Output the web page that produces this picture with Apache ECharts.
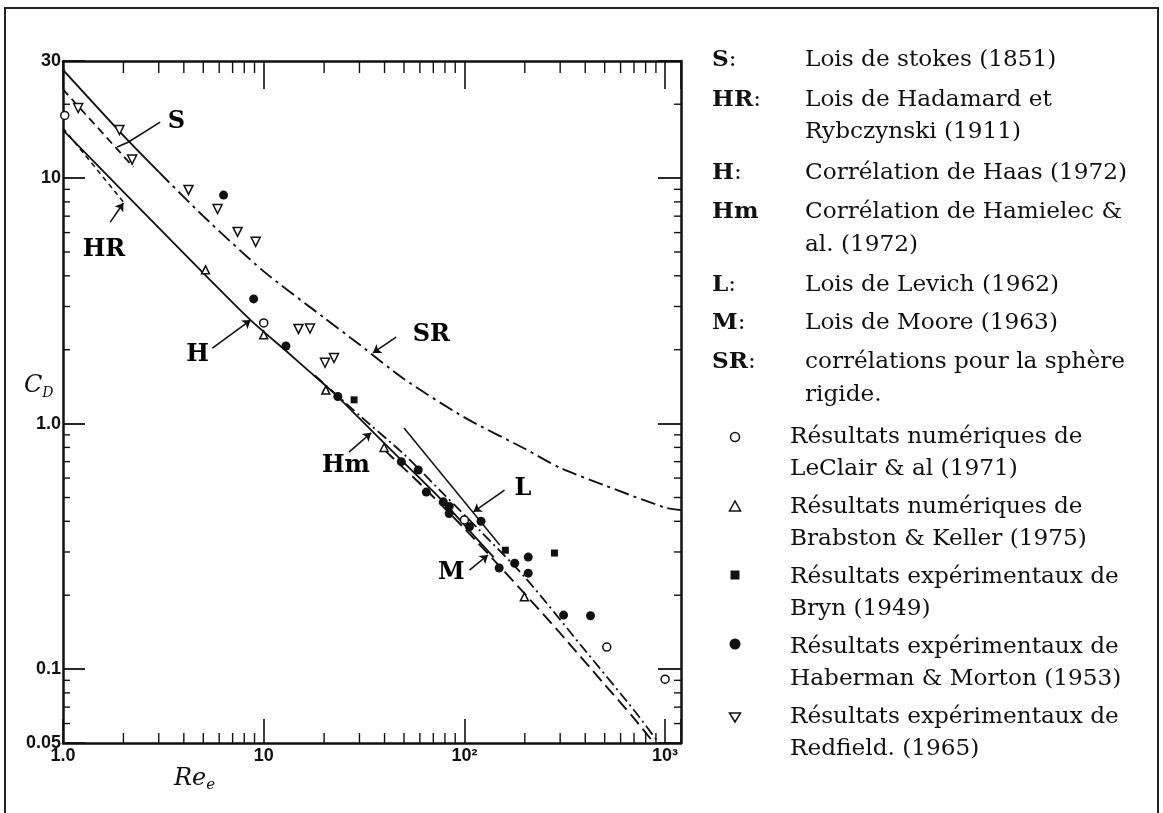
<!DOCTYPE html>
<html><head><meta charset="utf-8">
<script src="https://cdn.jsdelivr.net/npm/echarts@6.0.0/dist/echarts.min.js"></script>
<style>html,body{margin:0;padding:0;background:#fff}#c{width:1163px;height:813px}</style>
</head><body><div id="c"></div>
<script>
// ---------- axis ranges & tick labels ----------
const X_MIN = 1, X_MAX = 1200, Y_MIN = 0.05, Y_MAX = 30;
const xTickValues = [1, 10, 100, 1000];
const xTickTexts = ['1.0', '10', '10²', '10³'];
const yTickValues = [0.05, 0.1, 1, 10, 30];
const yTickTexts = ['0.05', '0.1', '1.0', '10', '30'];
const xMinorTicks = [2,3,4,5,6,7,8,9,20,30,40,50,60,70,80,90,200,300,400,500,600,700,800,900];
const yMinorTicks = [0.06,0.07,0.08,0.09,0.2,0.3,0.4,0.5,0.6,0.7,0.8,0.9,2,3,4,5,6,7,8,9,20];

// ---------- curves ----------
const srSolidRe = [1, 2, 3];
const srSolidCd = [27.6, 14.9, 10.6];
const srRe = [3, 5, 10, 20, 30, 50, 100, 200, 300, 500, 1000, 1200];
const srCd = [10.6, 7.0, 4.17, 2.7, 2.1, 1.52, 1.06, 0.79, 0.66, 0.56, 0.455, 0.445];
const sRe = [1, 2.24];
const sCd = [23, 11.1];
const hrRe = [1, 2.05];
const hrCd = [16, 7.8];
const hRe = [1, 2, 5.4, 8.6, 12.9, 17.2, 22.4, 30, 48.5, 76.7, 110, 140];
const hCd = [15.7, 8.8, 3.85, 2.64, 1.98, 1.61, 1.33, 1.05, 0.71, 0.49, 0.354, 0.285];
const hmRe = [18, 30, 50, 80, 120, 200, 400, 700, 930];
const hmCd = [1.57, 1.08, 0.75, 0.51, 0.365, 0.237, 0.119, 0.068, 0.05];
const lRe = [50, 150];
const lCd = [0.96, 0.32];
const mRe = [40, 60, 100, 150, 200, 300, 500, 700, 880];
const mCd = [0.78, 0.57, 0.374, 0.262, 0.2025, 0.14, 0.0865, 0.063, 0.05];

// ---------- data points ----------
const leclairRe = [1.02, 10, 100, 512, 1000];
const leclairCd = [18, 2.57, 0.405, 0.123, 0.091];
const brabstonRe = [5.13, 10, 20.4, 39.8, 199];
const brabstonCd = [4.23, 2.3, 1.37, 0.80, 0.197];
const brynRe = [28.2, 160, 281];
const brynCd = [1.25, 0.305, 0.297];
const habermanRe = [6.31, 8.91, 12.9, 23.4, 48.5, 58.9, 64.6, 78.5, 84, 84, 106, 121, 149, 178, 208, 208, 312, 425];
const habermanCd = [8.53, 3.22, 2.07, 1.29, 0.70, 0.647, 0.526, 0.48, 0.46, 0.43, 0.38, 0.40, 0.258, 0.27, 0.286, 0.246, 0.166, 0.165];
const redfieldRe = [1.19, 1.91, 2.21, 4.22, 5.89, 7.41, 9.12, 14.9, 17.0, 20.2, 22.4];
const redfieldCd = [19.3, 15.7, 11.9, 8.95, 7.48, 6.04, 5.5, 2.43, 2.44, 1.77, 1.85];

// ---------- annotations (in data coordinates) ----------
const annoNames = ['S', 'HR', 'H', 'SR', 'Hm', 'L', 'M'];
const annoAt = [[3.67, 16.9], [1.60, 5.1], [4.68, 1.90], [68.5, 2.30], [25.7, 0.671], [196, 0.542], [86.1, 0.246]];
const arrowLeaders = [
  [[1.72, 6.62], [2.0, 7.92]],
  [[5.55, 2.03], [8.61, 2.64]],
  [[45.7, 2.25], [35.0, 1.94]],
  [[26.6, 0.766], [34.3, 0.917]],
  [[158.5, 0.536], [110.9, 0.437]],
  [[106, 0.253], [131, 0.2916]]
];
const sLeader = [[3.05, 16.9], [2.11, 14.0], [1.86, 13.4]];

// ---------- legend texts ----------
const legendKeys = ['S', 'HR', '', 'H', 'Hm', '', 'L', 'M', 'SR', ''];
const legendColons = [':', ':', '', ':', '', '', ':', ':', ':', ''];
const legendTexts = ['Lois de stokes (1851)', 'Lois de Hadamard et', 'Rybczynski (1911)',
  'Corrélation de Haas (1972)', 'Corrélation de Hamielec &', 'al. (1972)',
  'Lois de Levich (1962)', 'Lois de Moore (1963)', 'corrélations pour la sphère', 'rigide.'];
const markerTexts = [
  ['Résultats numériques de', 'LeClair & al (1971)'],
  ['Résultats numériques de', 'Brabston & Keller (1975)'],
  ['Résultats expérimentaux de', 'Bryn (1949)'],
  ['Résultats expérimentaux de', 'Haberman & Morton (1953)'],
  ['Résultats expérimentaux de', 'Redfield. (1965)']
];

// ---------- helpers ----------
const INK = '#111';
const SERIF = "'DejaVu Serif', 'Liberation Serif', serif";
const NARROW = "'Liberation Sans Narrow', 'Liberation Sans', Arial, sans-serif";
const LEG_FS = 23.2;
const zip = (a, b) => a.map((v, i) => [v, b[i]]);
const fmt = (vals, texts) => v => {
  for (let i = 0; i < vals.length; i++) if (Math.abs(v - vals[i]) / vals[i] < 1e-4) return texts[i];
  return '';
};

function lineSeries(name, re, cd, dash, width) {
  return {
    name, type: 'line', data: zip(re, cd), symbol: 'none', smooth: 0.25,
    lineStyle: { color: INK, width: width || 1.8, type: dash || 'solid', opacity: 1 },
    z: 3, silent: true
  };
}
function scatterSeries(name, re, cd, symbol, size, filled, rotate) {
  return {
    name, type: 'scatter', data: zip(re, cd), symbol, symbolSize: size, symbolRotate: rotate || 0,
    itemStyle: { color: filled ? INK : '#fff', borderColor: INK, borderWidth: filled ? 0 : 1.5, opacity: 1 },
    z: 5, silent: true
  };
}

const legendLayoutY = [60, 100, 132, 173, 212, 245, 285, 323, 362, 395];
const graphics = [
  { type: 'rect', shape: { x: 5, y: 8, width: 1153, height: 830 }, style: { fill: 'none', stroke: '#222', lineWidth: 2 }, z: 0 },
  { type: 'text', x: 24, y: 372, style: { text: '{c|C}{d|D}', rich: {
      c: { fontFamily: SERIF, fontStyle: 'italic', fontSize: 24, fill: INK },
      d: { fontFamily: SERIF, fontStyle: 'italic', fontSize: 14, fill: INK, padding: [14, 0, 0, 0] } } } },
  { type: 'text', x: 174, y: 764, style: { text: '{c|Re}{d|e}', rich: {
      c: { fontFamily: SERIF, fontStyle: 'italic', fontSize: 24, fill: INK },
      d: { fontFamily: SERIF, fontStyle: 'italic', fontSize: 15, fill: INK, padding: [14, 0, 0, 0] } } } }
];
legendTexts.forEach((t, i) => {
  const y = legendLayoutY[i];
  if (legendKeys[i]) graphics.push({ type: 'text', x: 712, y, style: {
    text: '{b|' + legendKeys[i] + '}' + legendColons[i], verticalAlign: 'middle',
    fontFamily: SERIF, fontSize: LEG_FS, fill: INK,
    rich: { b: { fontFamily: SERIF, fontSize: LEG_FS, fontWeight: 'bold', fill: INK } } } });
  graphics.push({ type: 'text', x: 805, y, style: { text: t, verticalAlign: 'middle', fontFamily: SERIF, fontSize: LEG_FS, fill: INK } });
});
const mk = { stroke: INK, lineWidth: 1.5, fill: '#fff' };
markerTexts.forEach((pair, i) => {
  const y = 437 + i * 70;
  graphics.push({ type: 'text', x: 790, y, style: { text: pair[0], verticalAlign: 'middle', fontFamily: SERIF, fontSize: LEG_FS, fill: INK } });
  graphics.push({ type: 'text', x: 790, y: y + 32, style: { text: pair[1], verticalAlign: 'middle', fontFamily: SERIF, fontSize: LEG_FS, fill: INK } });
  const cx = 735;
  if (i === 0) graphics.push({ type: 'circle', shape: { cx, cy: y, r: 4.5 }, style: mk });
  if (i === 1) graphics.push({ type: 'polygon', shape: { points: [[cx, y - 6], [cx - 5.5, y + 4], [cx + 5.5, y + 4]] }, style: mk });
  if (i === 2) graphics.push({ type: 'rect', shape: { x: cx - 4.5, y: y - 6.5, width: 9, height: 9 }, style: { fill: INK } });
  if (i === 3) graphics.push({ type: 'circle', shape: { cx, cy: y - 3, r: 5.5 }, style: { fill: INK } });
  if (i === 4) graphics.push({ type: 'polygon', shape: { points: [[cx - 5.5, y - 4], [cx + 5.5, y - 4], [cx, y + 5]] }, style: mk });
});

const tickStyle = { stroke: INK, lineWidth: 1.4 };
const tickLabel = { fontFamily: NARROW, fontSize: 18, fontWeight: 'bold', color: INK };
const option = {
  animation: false,
  backgroundColor: '#fff',
  grid: { left: 63, right: 482, top: 61, bottom: 70, containLabel: false },
  xAxis: [
    { type: 'log', logBase: 10, min: X_MIN, max: X_MAX, position: 'bottom',
      axisLine: { lineStyle: { color: INK, width: 2.5 } },
      axisTick: { inside: true, length: 24, lineStyle: { color: INK, width: 1.6 } },
      axisLabel: Object.assign({ formatter: fmt(xTickValues, xTickTexts), margin: 4 }, tickLabel),
      splitLine: { show: false } },
    { type: 'log', logBase: 10, min: X_MIN, max: X_MAX, position: 'top',
      axisLine: { lineStyle: { color: INK, width: 2.5 } },
      axisTick: { inside: true, length: 28, lineStyle: { color: INK, width: 1.6 } },
      axisLabel: { show: false }, splitLine: { show: false } }
  ],
  yAxis: [
    { type: 'log', logBase: 10, min: Y_MIN, max: Y_MAX, position: 'left',
      axisLine: { lineStyle: { color: INK, width: 2.5 } },
      axisTick: { inside: true, length: 22, lineStyle: { color: INK, width: 1.8 } },
      axisLabel: Object.assign({ formatter: fmt(yTickValues, yTickTexts), margin: 2 }, tickLabel),
      splitLine: { show: false } },
    { type: 'log', logBase: 10, min: Y_MIN, max: Y_MAX, position: 'right',
      axisLine: { lineStyle: { color: INK, width: 2.5 } },
      axisTick: { inside: true, length: 23, lineStyle: { color: INK, width: 1.8 } },
      axisLabel: { show: false }, splitLine: { show: false } }
  ],
  graphic: graphics,
  series: [
    { name: 'xMinor', type: 'custom', silent: true, data: xMinorTicks.map(v => [v, Y_MIN]),
      renderItem: (p, api) => {
        const v = api.value(0), b = api.coord([v, Y_MIN]), t = api.coord([v, Y_MAX]);
        return { type: 'group', children: [
          { type: 'line', shape: { x1: b[0], y1: b[1], x2: b[0], y2: b[1] - 10 }, style: tickStyle },
          { type: 'line', shape: { x1: t[0], y1: t[1], x2: t[0], y2: t[1] + 12 }, style: tickStyle } ] };
      } },
    { name: 'yMinor', type: 'custom', silent: true, data: yMinorTicks.map(v => [X_MIN, v]),
      renderItem: (p, api) => {
        const v = api.value(1), l = api.coord([X_MIN, v]), r = api.coord([X_MAX, v]);
        return { type: 'group', children: [
          { type: 'line', shape: { x1: l[0], y1: l[1], x2: l[0] + 7, y2: l[1] }, style: tickStyle },
          { type: 'line', shape: { x1: r[0], y1: r[1], x2: r[0] - 7, y2: r[1] }, style: tickStyle } ] };
      } },
    lineSeries('SR', srSolidRe, srSolidCd, 'solid', 1.9),
    lineSeries('SR ', srRe, srCd, [15, 5, 3, 5], 1.9),
    lineSeries('S', sRe, sCd, [8, 5], 1.8),
    lineSeries('HR', hrRe, hrCd, [5, 4], 1.5),
    lineSeries('H', hRe, hCd, 'solid', 1.8),
    lineSeries('Hm', hmRe, hmCd, [11, 4, 2, 4], 1.8),
    lineSeries('L', lRe, lCd, 'solid', 1.5),
    lineSeries('M', mRe, mCd, [13, 6], 1.9),
    scatterSeries('LeClair & al (1971)', leclairRe, leclairCd, 'circle', 8, false),
    scatterSeries('Brabston & Keller (1975)', brabstonRe, brabstonCd, 'triangle', 8, false),
    scatterSeries('Bryn (1949)', brynRe, brynCd, 'rect', 7, true),
    scatterSeries('Haberman & Morton (1953)', habermanRe, habermanCd, 'circle', 9, true),
    scatterSeries('Redfield (1965)', redfieldRe, redfieldCd, 'triangle', 9, false, 180),
    { name: 'leaders', type: 'lines', coordinateSystem: 'cartesian2d', silent: true,
      symbol: ['none', 'arrow'], symbolSize: 8,
      lineStyle: { color: INK, width: 1.6, opacity: 1 },
      data: arrowLeaders.map(c => ({ coords: c })), z: 6 },
    { name: 'leaderS', type: 'lines', coordinateSystem: 'cartesian2d', polyline: true, silent: true,
      symbol: ['none', 'none'],
      lineStyle: { color: INK, width: 1.6, opacity: 1 },
      data: [{ coords: sLeader }], z: 6 },
    { name: 'labels', type: 'scatter', silent: true, symbolSize: 1,
      itemStyle: { color: 'rgba(0,0,0,0)', opacity: 1 },
      data: annoNames.map((n, i) => ({ name: n, value: annoAt[i] })),
      label: { show: true, position: 'inside', formatter: '{b}', fontFamily: SERIF, fontWeight: 'bold', fontSize: 24, color: '#000', opacity: 1 },
      z: 7 }
  ]
};
const chart = echarts.init(document.getElementById('c'), null, { renderer: 'canvas' });
chart.setOption(option);
</script></body></html>
